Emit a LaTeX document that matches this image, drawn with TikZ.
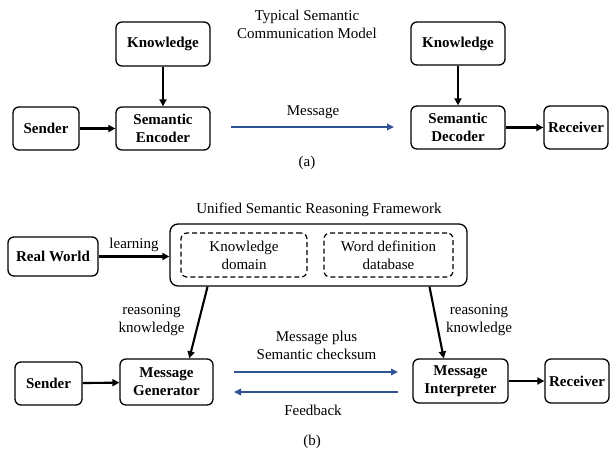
\documentclass[tikz,border=0pt]{standalone}
\usepackage{fontspec}
\setmainfont{Liberation Serif}
\usepackage{tikz}
\usetikzlibrary{arrows.meta,calc}
\definecolor{msgblue}{RGB}{47,84,150}
\newcommand{\diagfont}{\fontsize{15}{18}\selectfont}

\begin{document}
\begin{tikzpicture}
    % pixel-like units, y grows downwards
    [x=1pt, y=-1pt, font=\diagfont,
    BoxNode/.style={rounded corners=6pt, draw=black, line width=1.3pt, align=center, font=\diagfont\bfseries},
    DashNode/.style={rounded corners=6pt, draw=black, dash pattern=on 5pt off 3pt, line width=1.2pt, align=center},
    FrameNode/.style={rounded corners=8pt, draw=black, line width=1.3pt},
    BlackArr/.style={-{Triangle[length=7pt,width=7pt]}, line width=2.1pt},
    BlueArr/.style={-{Triangle[length=7pt,width=6.5pt]}, draw=msgblue, line width=2.8pt}]

    \useasboundingbox (0,0) rectangle (610,455);

    % (a) typical model: boxes
    \node[BoxNode, minimum width=94pt, minimum height=44pt] (know_a) at (163,44) {Knowledge};
    \node[BoxNode, minimum width=66pt, minimum height=43pt] (send_a) at (46,128.5) {Sender};
    \node[BoxNode, minimum width=94pt, minimum height=43pt] (enc) at (163,128.5) {Semantic\\Encoder};
    \node[BoxNode, minimum width=94pt, minimum height=43pt] (know_b) at (458,43.5) {Knowledge};
    \node[BoxNode, minimum width=94pt, minimum height=43pt] (dec) at (458,127.5) {Semantic\\Decoder};
    \node[BoxNode, minimum width=64pt, minimum height=43pt] (recv_a) at (576,127.5) {Receiver};

    % (a) connectors
    \draw[BlackArr] (know_a) -- (enc);
    \draw[BlackArr] (send_a) -- (enc);
    \draw[BlackArr] (know_b) -- (dec);
    \draw[BlackArr] (dec) -- (recv_a);
    \coordinate (msg_s) at (231,127);
    \coordinate (msg_e) at (394,127);
    \draw[BlueArr] (msg_s) -- (msg_e);

    % (a) texts
    \node[align=center] (title_a) at (307,24) {Typical Semantic\\Communication Model};
    \node (msg_lbl) at (313,112) {Message};
    \node (cap_a) at (307,163) {(a)};

    % (b) framework with its two parts
    \node[align=center] (title_b) at (319,210) {Unified Semantic Reasoning Framework};
    \node[FrameNode, minimum width=297pt, minimum height=62pt] (frame) at (318.5,255) {};
    \node[DashNode, minimum width=126pt, minimum height=44pt] (kdom) at (244,255) {Knowledge\\domain};
    \node[DashNode, minimum width=129pt, minimum height=44pt] (wdb) at (388.5,255) {Word definition\\database};

    % (b) boxes
    \node[BoxNode, minimum width=90pt, minimum height=39pt] (real) at (53,256.5) {Real World};
    \node[BoxNode, minimum width=67pt, minimum height=43pt] (send_b) at (48.5,383.5) {Sender};
    \node[BoxNode, minimum width=93pt, minimum height=46pt] (gen) at (166.5,382) {Message\\Generator};
    \node[BoxNode, minimum width=95pt, minimum height=44pt] (interp) at (460.5,381) {Message\\Interpreter};
    \node[BoxNode, minimum width=64pt, minimum height=44pt] (recv_b) at (577,381) {Receiver};

    % (b) connectors
    \draw[BlackArr] (real) -- (frame.west |- real);
    \draw[BlackArr] ($(frame.south west)!0.128!(frame.south east)$) -- ($(gen.north west)!0.742!(gen.north east)$);
    \draw[BlackArr] ($(frame.south west)!0.872!(frame.south east)$) -- ($(interp.north west)!0.326!(interp.north east)$);
    \draw[BlackArr] (send_b) -- (gen);
    \draw[BlackArr] (interp) -- (recv_b);
    \coordinate (fw_s) at (234,372);
    \coordinate (fw_e) at (398,372);
    \coordinate (fb_s) at (398,392);
    \coordinate (fb_e) at (234,392);
    \draw[BlueArr] (fw_s) -- (fw_e);
    \draw[BlueArr] (fb_s) -- (fb_e);

    % (b) texts
    \node (learn) at (134,245) {learning};
    \node[align=center] (reason_l) at (151.5,320.5) {reasoning\\knowledge};
    \node[align=center] (reason_r) at (479,320) {reasoning\\knowledge};
    \node[align=center] (plus) at (316.5,345) {Message plus\\Semantic checksum};
    \node (feed) at (313,410) {Feedback};
    \node (cap_b) at (312,442) {(b)};

\end{tikzpicture}
\end{document}
